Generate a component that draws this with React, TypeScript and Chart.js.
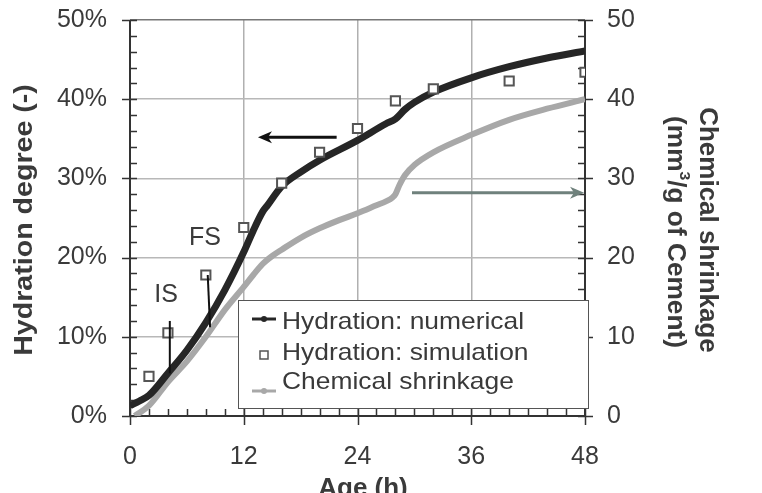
import React, { useEffect, useRef } from "react";
import { Chart, registerables } from "chart.js";
Chart.register(...registerables);

// Hydration degree, numerical model (%)
const NUM_AGE = [0, 1, 2, 4, 6, 8, 10, 12, 13, 14, 14.5, 16, 18, 20, 24, 27, 28, 29, 30, 32, 36, 40, 44, 48];
const NUM_HYD = [1.3, 1.9, 2.6, 5.4, 8.3, 11.8, 15.9, 20.7, 23.4, 25.8, 26.6, 29.0, 30.8, 32.3, 34.8, 36.9, 37.5, 38.7, 39.6, 40.9, 42.7, 44.1, 45.2, 46.1];
// Hydration degree, simulation (%)
const SIM_AGE = [2, 4, 8, 12, 16, 20, 24, 28, 32, 40, 48];
const SIM_HYD = [5.0, 10.5, 17.8, 23.8, 29.4, 33.3, 36.3, 39.8, 41.3, 42.3, 43.4];
// Chemical shrinkage (mm3/g of cement)
const CS_AGE = [0.5, 2, 4, 6, 8, 10, 12, 13, 14, 15, 16, 18, 20, 22, 24, 26, 27, 27.7, 28, 28.4, 29, 30, 32, 36, 40, 44, 48];
const CS_VAL = [0, 1.3, 4.3, 6.9, 10.0, 13.4, 16.3, 17.8, 19.2, 20.2, 21.0, 22.5, 23.7, 24.7, 25.6, 26.6, 27.1, 27.6, 28.0, 29.1, 30.4, 31.7, 33.3, 35.5, 37.4, 38.8, 40.0];

const X_TICKS = [0, 12, 24, 36, 48];
const Y_TICKS = [0, 10, 20, 30, 40, 50];

const LEGEND_LABELS = ["Hydration: numerical", "Hydration: simulation", "Chemical shrinkage"];
const LEFT_TITLE = "Hydration degree (-)";
const RIGHT_TITLE_1 = "Chemical shrinkage";
const X_TITLE = "Age (h)";

// annotation anchors (data coordinates)
const IS_MARK = { label: "IS", tx: 3.8, ty: 15.3, x1: 4.2, y1: 12, x2: 4.2, y2: 5.4 };
const FS_MARK = { label: "FS", tx: 7.9, ty: 22.4, x1: 8.2, y1: 17.8, x2: 8.45, y2: 11.2 };
const LEFT_ARROW = { from: 21.8, to: 13.5, y: 35.2 };
const RIGHT_ARROW = { from: 29.75, to: 47.9, y: 28.2 };

const FONT = "'Liberation Sans', Arial, sans-serif";
const TEXT = "#3a3a3a";

function txt(ctx: any, s: string, x: number, y: number, o: any) {
  ctx.save();
  ctx.translate(x, y);
  if (o.rot) ctx.rotate(o.rot);
  if (o.sx) ctx.scale(o.sx, 1);
  ctx.font = o.font;
  ctx.fillStyle = o.color || TEXT;
  ctx.textAlign = o.align || "left";
  ctx.textBaseline = o.base || "middle";
  ctx.fillText(s, 0, 0);
  ctx.restore();
}

function arrow(ctx: any, x1: number, x2: number, y: number, color: string) {
  const dir = Math.sign(x2 - x1);
  ctx.save();
  ctx.strokeStyle = color;
  ctx.fillStyle = color;
  ctx.lineWidth = 3;
  ctx.beginPath();
  ctx.moveTo(x1, y);
  ctx.lineTo(x2 - dir * 10, y);
  ctx.stroke();
  ctx.beginPath();
  ctx.moveTo(x2, y);
  ctx.lineTo(x2 - dir * 14, y - 6);
  ctx.lineTo(x2 - dir * 10, y);
  ctx.lineTo(x2 - dir * 14, y + 6);
  ctx.closePath();
  ctx.fill();
  ctx.restore();
}

const decor = {
  id: "decor",
  beforeDatasetsDraw(chart: any) {
    const { ctx, chartArea: a, scales } = chart;
    const xs = scales.x, yl = scales.y, yr = scales.y2;
    ctx.save();
    ctx.strokeStyle = "#333";
    ctx.lineWidth = 1.5;
    ctx.beginPath();
    for (let v = 0; v <= 48; v += 2) {
      const px = Math.round(xs.getPixelForValue(v)) + 0.5;
      const major = v % 12 === 0;
      ctx.moveTo(px, a.bottom + (major ? 9 : 0));
      ctx.lineTo(px, a.bottom - 7);
    }
    for (let v = 0; v <= 50; v += 2) {
      const py = Math.round(yl.getPixelForValue(v)) + 0.5;
      const major = v % 10 === 0;
      ctx.moveTo(a.left - (major ? 8 : 0), py);
      ctx.lineTo(a.left + 7, py);
      const pr = Math.round(yr.getPixelForValue(v)) + 0.5;
      ctx.moveTo(a.right + (major ? 8 : 0), pr);
      ctx.lineTo(a.right - 7, pr);
    }
    ctx.stroke();
    ctx.lineWidth = 2;
    ctx.strokeStyle = "#333";
    ctx.beginPath();
    ctx.moveTo(a.left, a.top);
    ctx.lineTo(a.left, a.bottom);
    ctx.lineTo(a.right, a.bottom);
    ctx.moveTo(a.right, a.top);
    ctx.lineTo(a.right, a.bottom);
    ctx.stroke();
    ctx.restore();
  },
  afterDatasetsDraw(chart: any) {
    const { ctx, scales } = chart;
    const xs = scales.x, yl = scales.y, yr = scales.y2;
    for (const m of [IS_MARK, FS_MARK]) {
      ctx.save();
      ctx.strokeStyle = "#111";
      ctx.lineWidth = 2;
      ctx.beginPath();
      ctx.moveTo(xs.getPixelForValue(m.x1), yl.getPixelForValue(m.y1));
      ctx.lineTo(xs.getPixelForValue(m.x2), yl.getPixelForValue(m.y2));
      ctx.stroke();
      ctx.restore();
      txt(ctx, m.label, xs.getPixelForValue(m.tx), yl.getPixelForValue(m.ty), {
        font: `25px ${FONT}`, align: "center",
      });
    }
    arrow(ctx, xs.getPixelForValue(LEFT_ARROW.from), xs.getPixelForValue(LEFT_ARROW.to), yl.getPixelForValue(LEFT_ARROW.y), "#111");
    arrow(ctx, xs.getPixelForValue(RIGHT_ARROW.from), xs.getPixelForValue(RIGHT_ARROW.to), yr.getPixelForValue(RIGHT_ARROW.y), "#6f817c");

    // legend
    const lx = 238, ly = 300, lw = 350, lh = 108;
    ctx.save();
    ctx.fillStyle = "#fff";
    ctx.fillRect(lx, ly, lw, lh);
    ctx.strokeStyle = "#555";
    ctx.lineWidth = 1;
    ctx.strokeRect(lx + 0.5, ly + 0.5, lw, lh);
    ctx.strokeStyle = "#262626";
    ctx.fillStyle = "#262626";
    ctx.lineWidth = 3;
    ctx.beginPath();
    ctx.moveTo(252, 319);
    ctx.lineTo(276, 319);
    ctx.stroke();
    ctx.beginPath();
    ctx.arc(264, 319, 3, 0, Math.PI * 2);
    ctx.fill();
    ctx.strokeStyle = "#555";
    ctx.lineWidth = 1.5;
    ctx.fillStyle = "#fff";
    ctx.fillRect(260, 351, 8, 8);
    ctx.strokeRect(260, 351, 8, 8);
    ctx.strokeStyle = "#a8a8a8";
    ctx.fillStyle = "#a8a8a8";
    ctx.lineWidth = 3;
    ctx.beginPath();
    ctx.moveTo(252, 391);
    ctx.lineTo(276, 391);
    ctx.stroke();
    ctx.beginPath();
    ctx.arc(264, 391, 3, 0, Math.PI * 2);
    ctx.fill();
    ctx.restore();
    const rows = [322, 353, 382];
    LEGEND_LABELS.forEach((s, i) => {
      txt(ctx, s, 282, rows[i], { font: `24px ${FONT}`, sx: 1.1 });
    });

    // axis titles
    txt(ctx, LEFT_TITLE, 25, 220, { font: `bold 26px ${FONT}`, align: "center", rot: -Math.PI / 2, sx: 1.1 });
    txt(ctx, X_TITLE, 363, 496, { font: `bold 26px ${FONT}`, align: "center", base: "alphabetic" });
    txt(ctx, RIGHT_TITLE_1, 707, 230, { font: `bold 25px ${FONT}`, align: "center", rot: Math.PI / 2, sx: 1.04 });
    ctx.save();
    ctx.translate(675, 232);
    ctx.rotate(Math.PI / 2);
    ctx.scale(1.05, 1);
    ctx.fillStyle = TEXT;
    ctx.textBaseline = "middle";
    ctx.textAlign = "left";
    const big = `bold 25px ${FONT}`, small = `bold 15px ${FONT}`;
    ctx.font = big;
    const p1 = "(mm", p3 = "/g of Cement)";
    const w1 = ctx.measureText(p1).width, w3 = ctx.measureText(p3).width;
    ctx.font = small;
    const w2 = ctx.measureText("3").width;
    const sx = -(w1 + w2 + w3) / 2;
    ctx.font = big;
    ctx.fillText(p1, sx, 0);
    ctx.font = small;
    ctx.fillText("3", sx + w1, -9);
    ctx.font = big;
    ctx.fillText(p3, sx + w1 + w2, 0);
    ctx.restore();
  },
};

const noPad = (s: any) => {
  s.paddingTop = 0;
  s.paddingBottom = 0;
  s.paddingLeft = 0;
  s.paddingRight = 0;
};

export default function App() {
  const ref = useRef<HTMLCanvasElement | null>(null);
  useEffect(() => {
    document.body.style.margin = "0";
    const canvas = ref.current!;
    const pts = (xs: number[], ys: number[]) => xs.map((x, i) => ({ x, y: ys[i] }));
    const chart = new Chart(canvas, {
      type: "line",
      data: {
        datasets: [
          {
            label: LEGEND_LABELS[2],
            data: pts(CS_AGE, CS_VAL),
            yAxisID: "y2",
            borderColor: "#a8a8a8",
            borderWidth: 6,
            pointRadius: 0,
            cubicInterpolationMode: "monotone",
            order: 3,
          },
          {
            label: LEGEND_LABELS[0],
            data: pts(NUM_AGE, NUM_HYD),
            yAxisID: "y",
            borderColor: "#262626",
            borderWidth: 7,
            pointRadius: 0,
            cubicInterpolationMode: "monotone",
            order: 2,
          },
          {
            label: LEGEND_LABELS[1],
            data: pts(SIM_AGE, SIM_HYD),
            yAxisID: "y",
            showLine: false,
            pointStyle: "rect",
            pointRadius: 6.5,
            borderColor: "#555",
            backgroundColor: "#fff",
            borderWidth: 2,
            order: 1,
          },
        ],
      },
      options: {
        animation: false,
        responsive: false,
        layout: { padding: { top: 20, left: 0, right: 0, bottom: 0 } },
        plugins: { legend: { display: false }, tooltip: { enabled: false } },
        scales: {
          x: {
            type: "linear",
            min: 0,
            max: 48,
            afterBuildTicks: (s: any) => { s.ticks = X_TICKS.map((v) => ({ value: v })); },
            afterFit: (s: any) => { s.height = 77; noPad(s); },
            border: { display: false },
            grid: {
              drawTicks: false,
              color: (c: any) => (c.tick && (c.tick.value === 0 || c.tick.value === 48) ? "rgba(0,0,0,0)" : "#b0b0b0"),
              lineWidth: 1.5,
            },
            ticks: { padding: 26, color: TEXT, font: { family: FONT, size: 25 }, maxRotation: 0 },
          },
          y: {
            position: "left",
            min: 0,
            max: 50,
            afterBuildTicks: (s: any) => { s.ticks = Y_TICKS.map((v) => ({ value: v })); },
            afterFit: (s: any) => { s.width = 130; noPad(s); },
            border: { display: false },
            grid: {
              drawTicks: false,
              color: (c: any) => (c.tick && c.tick.value === 0 ? "rgba(0,0,0,0)" : c.tick && c.tick.value === 50 ? "#777" : "#b8b8b8"),
              lineWidth: 1.5,
            },
            ticks: { padding: 23, color: TEXT, font: { family: FONT, size: 25 }, callback: (v: any) => v + "%" },
          },
          y2: {
            position: "right",
            min: 0,
            max: 50,
            afterBuildTicks: (s: any) => { s.ticks = Y_TICKS.map((v) => ({ value: v })); },
            afterFit: (s: any) => { s.width = 177; noPad(s); },
            border: { display: false },
            grid: { drawOnChartArea: false, drawTicks: false },
            ticks: { padding: 22, color: TEXT, font: { family: FONT, size: 25 } },
          },
        },
      },
      plugins: [decor],
    } as any);
    return () => chart.destroy();
  }, []);
  return (
    <div style={{ position: "absolute", left: 0, top: 0, width: 762, height: 493 }}>
      <canvas ref={ref} width={762} height={493} style={{ width: 762, height: 493, display: "block" }} />
    </div>
  );
}
